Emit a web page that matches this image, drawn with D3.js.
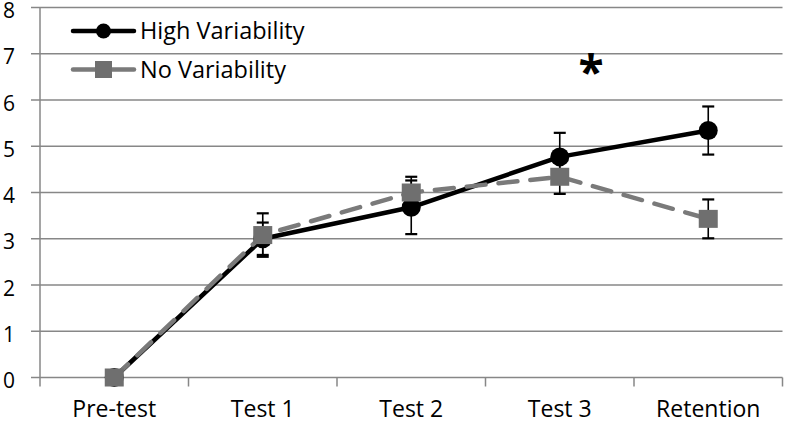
<!DOCTYPE html>
<html><head><meta charset="utf-8">
<script src="https://cdn.jsdelivr.net/npm/d3@7"></script>
<style>body{margin:0;background:#fff}svg{display:block}text{font-family:"Open Sans",Lato,sans-serif}</style>
</head><body><svg id="c" width="787" height="424"></svg>
<script>
const categories = ["Pre-test","Test 1","Test 2","Test 3","Retention"];
const highVar = [0, 3.0, 3.68, 4.77, 5.34];
const highVarErr = [0, 0.35, 0.58, 0.52, 0.52];
const noVar = [0, 3.08, 4.0, 4.34, 3.43];
const noVarErr = [0, 0.47, 0.34, 0.37, 0.42];
const yTicks = [0,1,2,3,4,5,6,7,8];
const seriesNames = ["High Variability","No Variability"];

(function(){
const svg = d3.select("#c");
const mLeft = 40, mRight = 782.5, mTop = 7.5, mBottom = 377.5;
const x = d3.scaleBand().domain(categories).range([mLeft, mRight]).padding(0);
const y = d3.scaleLinear().domain([0, 8]).range([mBottom, mTop]);
const cx = c => x(c) + x.bandwidth()/2;
const gridCol = "#878787";

svg.append("g").selectAll("line").data(yTicks).join("line")
  .attr("x1", mLeft-9).attr("x2", mRight).attr("y1", d=>y(d)).attr("y2", d=>y(d))
  .attr("stroke", gridCol).attr("stroke-width", 1.5);
svg.append("line").attr("x1", mLeft).attr("x2", mLeft).attr("y1", mTop).attr("y2", mBottom)
  .attr("stroke", gridCol).attr("stroke-width", 1.5);
const xt = categories.map(c => x(c)).concat([mRight]);
svg.append("g").selectAll("line").data(xt).join("line")
  .attr("x1", d=>d).attr("x2", d=>d).attr("y1", mBottom).attr("y2", mBottom+9)
  .attr("stroke", gridCol).attr("stroke-width", 1.5);
svg.append("g").selectAll("text").data(yTicks).join("text")
  .attr("x", 9).attr("y", d=>y(d)+3).attr("dy","0.36em").attr("text-anchor","middle")
  .attr("font-size", 21).attr("fill","#000").text(d=>d);
svg.append("g").selectAll("text").data(categories).join("text")
  .attr("x", d=>cx(d)).attr("y", 409).attr("dy","0.36em").attr("text-anchor","middle")
  .attr("font-size", 23).attr("fill","#000").text(d=>d);

const line = d3.line().x((d,i)=>cx(categories[i])).y(d=>y(d));
const grayLine = "#7a7a7a", grayFill = "#6f6f6f";

function errBars(vals, errs){
  const g = svg.append("g").attr("stroke","#000").attr("stroke-width",1.6);
  vals.forEach((v,i)=>{
    if(!errs[i]) return;
    const xc = cx(categories[i]);
    g.append("line").attr("x1",xc).attr("x2",xc).attr("y1",y(v+errs[i])).attr("y2",y(v-errs[i]));
    [v+errs[i], v-errs[i]].forEach(e=>g.append("line").attr("x1",xc-6).attr("x2",xc+6).attr("y1",y(e)).attr("y2",y(e)).attr("stroke-width",2.2));
  });
}
errBars(highVar, highVarErr);
errBars(noVar, noVarErr);

svg.append("path").datum(highVar).attr("d", line).attr("fill","none")
  .attr("stroke","#000").attr("stroke-width",4.5).attr("stroke-linejoin","round");
svg.append("g").selectAll("circle").data(highVar).join("circle")
  .attr("cx",(d,i)=>cx(categories[i])).attr("cy",d=>y(d)).attr("r",9.5).attr("fill","#000");
svg.append("path").datum(noVar).attr("d", line).attr("fill","none")
  .attr("stroke",grayLine).attr("stroke-width",4.5).attr("stroke-dasharray","19,13").attr("stroke-linecap","round");
svg.append("g").selectAll("rect").data(noVar).join("rect")
  .attr("x",(d,i)=>cx(categories[i])-9.5).attr("y",d=>y(d)-9).attr("width",19).attr("height",18).attr("fill",grayFill);

const lg = svg.append("g");
lg.append("line").attr("x1",73).attr("x2",134).attr("y1",31).attr("y2",31).attr("stroke","#000").attr("stroke-width",4.5).attr("stroke-linecap","round");
lg.append("circle").attr("cx",103.5).attr("cy",31).attr("r",7.5).attr("fill","#000");
lg.append("text").attr("x",140).attr("y",31).attr("dy","0.36em").attr("font-size",23.5).text(seriesNames[0]);
lg.append("line").attr("x1",73).attr("x2",134).attr("y1",69.5).attr("y2",69.5).attr("stroke",grayLine).attr("stroke-width",4.5).attr("stroke-linecap","round");
lg.append("rect").attr("x",95).attr("y",61).attr("width",17).attr("height",17).attr("fill",grayFill);
lg.append("text").attr("x",140).attr("y",69.5).attr("dy","0.36em").attr("font-size",23.5).text(seriesNames[1]);

svg.append("text").attr("x",591).attr("y",89).attr("text-anchor","middle")
  .attr("font-size",46).attr("font-weight","bold").text("*");
})();
</script></body></html>
